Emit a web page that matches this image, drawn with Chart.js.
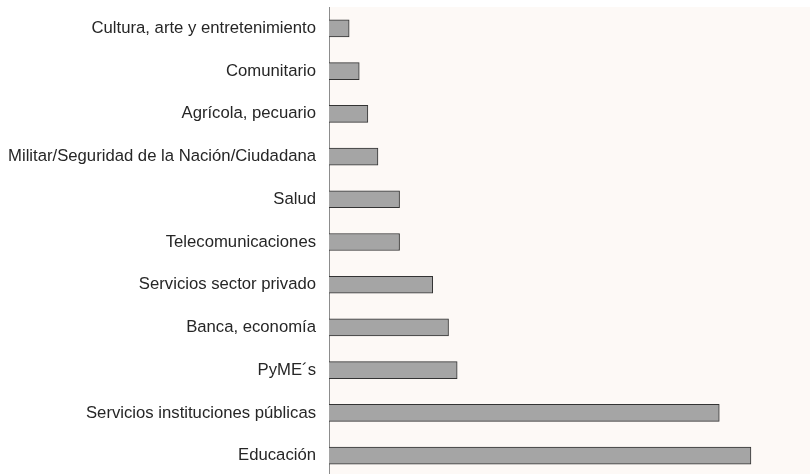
<!DOCTYPE html>
<html>
<head>
<meta charset="utf-8">
<script src="https://cdn.jsdelivr.net/npm/chart.js@4/dist/chart.umd.min.js"></script>
<style>
html, body { margin:0; padding:0; background:#fff; overflow:hidden; }
#wrap { width:810px; height:477px; }
</style>
</head>
<body>
<div id="wrap"><canvas id="sector_chart"></canvas></div>
<script>
// sectores, de menor a mayor (%)
const sectores = [
    "Cultura, arte y entretenimiento",
    "Comunitario",
    "Agrícola, pecuario",
    "Militar/Seguridad de la Nación/Ciudadana",
    "Salud",
    "Telecomunicaciones",
    "Servicios sector privado",
    "Banca, economía",
    "PyME´s",
    "Servicios instituciones públicas",
    "Educación"
];
const porcentajes = [1.4, 2.1, 2.7, 3.4, 4.9, 4.9, 7.2, 8.3, 8.9, 27.1, 29.3];
const xMax = 33.4;

// fondo del area de grafico
const plotBg = {
    id:"plotBg",
    beforeDraw:function(chart){
        let a = chart.chartArea;
        let ctx = chart.ctx;
        ctx.save();
        ctx.fillStyle = "#fdf9f6";
        ctx.fillRect(a.left, a.top, a.right - a.left, a.bottom - a.top);
        ctx.restore();
    }
};

let sectorChart = new Chart(document.getElementById("sector_chart"), {
    type:"bar",
    plugins:[plotBg],
    data:{
        labels:sectores,
        datasets:[{
            data:porcentajes,
            backgroundColor:"#a5a5a5",
            borderColor:"#333333",
            borderWidth:1,
            borderSkipped:"left",
            barThickness:17
        }]
    },
    options:{
        indexAxis:"y",
        responsive:true,
        maintainAspectRatio:false,
        animation:false,
        layout:{ padding:{ top:7, right:0, bottom:0, left:0 } },
        plugins:{
            legend:{ display:false },
            tooltip:{ enabled:false }
        },
        scales:{
            x:{
                display:false,
                min:0,
                max:xMax
            },
            y:{
                afterFit:function(scale){
                    scale.width = 329;
                    // sin margen extra arriba/abajo por las etiquetas
                    scale.paddingTop = 0;
                    scale.paddingBottom = 0;
                },
                grid:{ display:false, drawTicks:false },
                border:{ display:true, color:"#8c8c8c", width:1 },
                ticks:{
                    color:"#262626",
                    padding:13,
                    font:{ family:"'Liberation Sans', Arial, sans-serif", size:16.7 }
                }
            }
        }
    }
});
</script>
</body>
</html>
